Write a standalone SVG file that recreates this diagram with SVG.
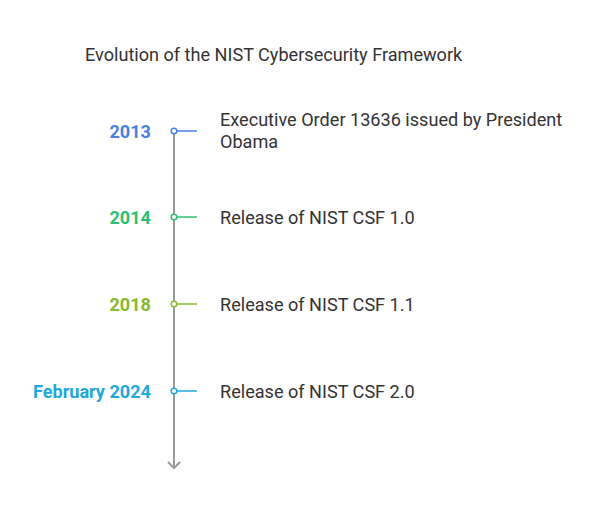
<svg xmlns="http://www.w3.org/2000/svg" width="600" height="517" viewBox="0 0 600 517">
<style>
.t{font-family:Roboto,"Liberation Sans",sans-serif;font-size:18.1px;fill:#333333}
.y{font-family:Roboto,"Liberation Sans",sans-serif;font-size:18.1px;font-weight:bold;text-anchor:end}
.dot{fill:#ffffff;stroke-width:1.5}
.tick{stroke-width:1.5}
</style>
<rect width="600" height="517" fill="#ffffff"/>
<text class="t" x="85" y="61">Evolution of the NIST Cybersecurity Framework</text>
<g id="connectors">
<line x1="174" y1="131" x2="174" y2="468" stroke="#9a9a9a" stroke-width="2"/>
<polyline points="168,462 174,468 180,462" fill="none" stroke="#9a9a9a" stroke-width="2"/>
</g>
<g id="n2013">
<line class="tick" x1="177" y1="131" x2="197" y2="131" stroke="#4a80e3"/>
<circle class="dot" cx="174" cy="131" r="2.8" stroke="#4a80e3"/>
<text class="y" x="151" y="137.5" fill="#4a80e3">2013</text>
<text class="t" x="220" y="126">Executive Order 13636 issued by President</text>
<text class="t" x="220" y="148">Obama</text>
</g>
<g id="n2014">
<line class="tick" x1="177" y1="217" x2="197" y2="217" stroke="#2dbf74"/>
<circle class="dot" cx="174" cy="217" r="2.8" stroke="#2dbf74"/>
<text class="y" x="151" y="223.5" fill="#2dbf74">2014</text>
<text class="t" x="220" y="223.5">Release of NIST CSF 1.0</text>
</g>
<g id="n2018">
<line class="tick" x1="177" y1="304" x2="197" y2="304" stroke="#88b92d"/>
<circle class="dot" cx="174" cy="304" r="2.8" stroke="#88b92d"/>
<text class="y" x="151" y="310.5" fill="#88b92d">2018</text>
<text class="t" x="220" y="310.5">Release of NIST CSF 1.1</text>
</g>
<g id="n2024">
<line class="tick" x1="177" y1="391" x2="197" y2="391" stroke="#1fa8dc"/>
<circle class="dot" cx="174" cy="391" r="2.8" stroke="#1fa8dc"/>
<text class="y" x="151" y="397.5" fill="#1fa8dc">February 2024</text>
<text class="t" x="220" y="397.5">Release of NIST CSF 2.0</text>
</g>
</svg>
